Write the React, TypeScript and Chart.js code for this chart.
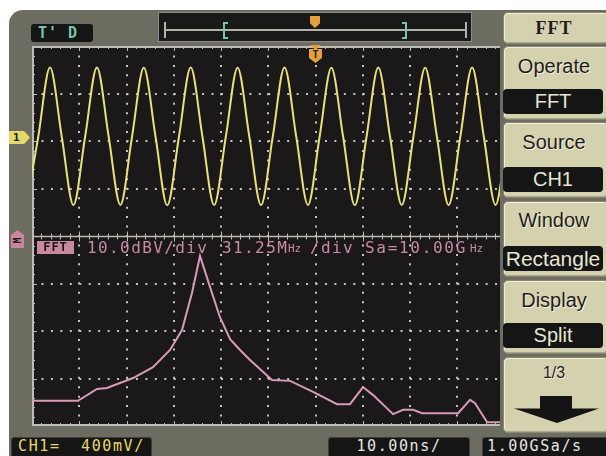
import React, { useEffect, useRef } from "react";
import { Chart, registerables } from "chart.js";

Chart.register(...registerables);

// CH1 waveform key points (time in ns, voltage in mV)
const ch1Times = [-1.31, 1.17, 3.65, 6.13, 8.61, 11.09, 13.58, 16.06, 18.54, 21.02, 23.5, 25.98, 28.46, 30.95, 33.43, 35.91, 38.39, 40.87, 43.35, 45.83, 48.31, 50.8, 53.28, 55.76, 58.24, 60.72, 63.2, 65.68, 68.16, 70.65, 73.13, 75.61, 78.09, 80.57, 83.05, 85.53, 88.01, 90.5, 92.98, 95.46, 97.94, 100.42];
const ch1Values = [-575, 0, 580, 0, -578, 0, 582, 0, -576, 0, 578, 0, -580, 0, 580, 0, -577, 0, 579, 0, -578, 0, 581, 0, -576, 0, 578, 0, -579, 0, 580, 0, -577, 0, 579, 0, -578, 0, 580, 0, -576, 0];
// FFT spectrum (frequency in MHz, level in dBV)
const fftFreqs = [0, 29.9, 42.5, 49.1, 66.3, 79.5, 90.8, 98.7, 105.3, 110.6, 117.2, 123.8, 130.5, 137.1, 143.7, 158.2, 170.2, 185.4, 201.2, 209.8, 218.4, 225.1, 238.3, 244.9, 251.5, 257.5, 278.0, 281.3, 289.2, 292.5, 300.5, 312.5];
const fftLevels = [-34.7, -34.7, -32.2, -32.0, -29.9, -27.6, -24.0, -19.8, -12.0, -4.2, -10.7, -17.1, -21.7, -24.0, -26.1, -30.3, -30.5, -32.8, -35.4, -35.4, -31.8, -33.5, -37.5, -36.6, -36.6, -37.3, -37.3, -37.3, -34.5, -35.2, -39.2, -39.2];

const menuTitle = "FFT";
const menuLabels = ["Operate", "Source", "Window", "Display"];
const menuValues = ["FFT", "CH1", "Rectangle", "Split"];
const pageLabel = "1/3";
const fftInfo = ["10.0dBV/div", "31.25M", "Hz", "/div", "Sa=10.00G", "Hz"];
const statusCh1 = ["CH1=", "400mV/"];
const statusTime = "10.00ns/";
const statusRate = "1.00GSa/s";

// ---- styles ----
const FRAME = "#6d6c60";
const PLOT_BG = "#1b1819";
const GRID = "#c4c4be";
const YELLOW = "#e8e07a";
const PINK = "#d89bb3";
const PINK_TEXT = "#c98ba3";
const TEAL = "#74c6ae";
const ORANGE = "#e3a03c";
const BEIGE = "#d4d1ae";
const MONO = "'DejaVu Sans Mono', monospace";
const SANS = "'Liberation Sans', Arial, sans-serif";

const framePlugin = {
  id: "scopeFrame",
  beforeDatasetsDraw(chart: any) {
    const { ctx, chartArea: a, scales } = chart;
    const gx = scales.gx;
    const gy = scales.gy;
    ctx.save();
    ctx.strokeStyle = "#bdbdb7";
    ctx.lineWidth = 2;
    ctx.beginPath();
    ctx.moveTo(a.right, a.top + 1);
    ctx.lineTo(a.left + 1, a.top + 1);
    ctx.lineTo(a.left + 1, a.bottom - 1);
    ctx.lineTo(a.right, a.bottom - 1);
    ctx.stroke();
    const yc = Math.round(gy.getPixelForValue(4)) + 0.5;
    ctx.lineWidth = 1.5;
    ctx.beginPath();
    ctx.moveTo(a.left, yc);
    ctx.lineTo(a.right, yc);
    ctx.stroke();
    ctx.lineWidth = 1;
    ctx.beginPath();
    for (let i = 0; i <= 50; i++) {
      const v = i / 5;
      if (v > gx.max) break;
      const major = i % 5 === 0;
      const len = major ? 5 : 3;
      const x = Math.round(gx.getPixelForValue(v)) + 0.5;
      ctx.moveTo(x, a.top);
      ctx.lineTo(x, a.top + len);
      ctx.moveTo(x, a.bottom);
      ctx.lineTo(x, a.bottom - len);
      ctx.moveTo(x, yc - len);
      ctx.lineTo(x, yc + len);
    }
    for (let i = 0; i <= 40; i++) {
      const v = i / 5;
      const len = i % 5 === 0 ? 5 : 3;
      const y = Math.round(gy.getPixelForValue(v)) + 0.5;
      ctx.moveTo(a.left, y);
      ctx.lineTo(a.left + len, y);
    }
    ctx.stroke();
    ctx.restore();
  },
};

const gridColor = (excluded: number[], max: number) => (c: any) => {
  const v = c.tick ? c.tick.value : undefined;
  if (v === undefined) return "rgba(0,0,0,0)";
  if (Math.abs(v - Math.round(v)) > 1e-6) return "rgba(0,0,0,0)";
  if (v <= 0 || v >= max) return "rgba(0,0,0,0)";
  if (excluded.includes(Math.round(v))) return "rgba(0,0,0,0)";
  return GRID;
};

function Txt(props: { x: number; y: number; w?: number; h?: number; children: any; style?: any }) {
  const { x, y, w, h, children, style } = props;
  return (
    <div
      style={{
        position: "absolute",
        left: x,
        top: y,
        width: w,
        height: h,
        lineHeight: h ? h + "px" : undefined,
        whiteSpace: "nowrap",
        ...style,
      }}
    >
      {children}
    </div>
  );
}

export default function App() {
  const canvasRef = useRef<HTMLCanvasElement>(null);

  useEffect(() => {
    const ch1Data = ch1Times.map((t, i) => ({ x: t, y: ch1Values[i] }));
    const fftData = fftFreqs.map((f, i) => ({ x: f, y: fftLevels[i] }));
    const chart = new Chart(canvasRef.current as HTMLCanvasElement, {
      type: "line",
      data: {
        datasets: [
          {
            data: ch1Data,
            xAxisID: "x",
            yAxisID: "y",
            borderColor: YELLOW,
            borderWidth: 2,
            pointRadius: 0,
            cubicInterpolationMode: "monotone",
            clip: 0,
          } as any,
          {
            data: fftData,
            xAxisID: "xf",
            yAxisID: "yf",
            borderColor: PINK,
            borderWidth: 2,
            pointRadius: 0,
            tension: 0,
            clip: 0,
          } as any,
        ],
      },
      options: {
        animation: false,
        responsive: false,
        maintainAspectRatio: false,
        devicePixelRatio: 1,
        events: [],
        layout: { padding: 0 },
        plugins: { legend: { display: false }, tooltip: { enabled: false } },
        scales: {
          gx: {
            type: "linear",
            axis: "x",
            position: "bottom",
            min: 0,
            max: 9.9,
            ticks: { display: false, stepSize: 1 },
            grid: { drawTicks: false, lineWidth: 2, color: gridColor([], 9.9) as any },
            border: { display: false, dash: [2, 7.45] },
          } as any,
          gy: {
            type: "linear",
            axis: "y",
            position: "left",
            min: 0,
            max: 8,
            ticks: { display: false, stepSize: 1 },
            grid: { drawTicks: false, lineWidth: 2, color: gridColor([4], 8) as any },
            border: { display: false, dash: [2, 7.45] },
          } as any,
          x: { type: "linear", axis: "x", display: false, min: -0.16, max: 98.89 } as any,
          y: { type: "linear", axis: "y", display: false, min: -2438, max: 762 } as any,
          xf: { type: "linear", axis: "x", display: false, min: -0.5, max: 309.0 } as any,
          yf: { type: "linear", axis: "y", display: false, min: -40, max: 40 } as any,
        },
      },
      plugins: [framePlugin],
    });
    return () => chart.destroy();
  }, []);

  const btnStyle = {
    position: "absolute" as const,
    left: 503,
    width: 106,
    background: BEIGE,
    borderRadius: 5,
    boxSizing: "border-box" as const,
    border: "1px solid #8a8870",
    boxShadow: "inset 1px 1px 0 #f1efdb, inset -1px -1px 0 #a9a78e",
  };
  const barStyle = {
    position: "absolute" as const,
    left: 503,
    width: 100,
    height: 25,
    background: "#151515",
    borderRadius: 4,
    color: "#e8e6d4",
    fontFamily: SANS,
    fontSize: 20,
    lineHeight: "25px",
    textAlign: "center" as const,
  };
  const labelStyle = {
    position: "absolute" as const,
    left: 503,
    width: 102,
    height: 24,
    lineHeight: "24px",
    textAlign: "center" as const,
    fontFamily: SANS,
    fontSize: 20,
    color: "#1e1e1a",
    textShadow: "1px 1px 0 #f2f0de",
  };
  const buttons = [
    { top: 46, h: 74, label: 66, bar: 89 },
    { top: 122, h: 76, label: 142, bar: 167 },
    { top: 201, h: 76, label: 220, bar: 246 },
    { top: 280, h: 74, label: 300, bar: 323 },
  ];
  const statusBox = {
    position: "absolute" as const,
    top: 437,
    height: 21,
    background: "#151515",
    borderRadius: 3,
    boxSizing: "border-box" as const,
    border: "1px solid #3e3d36",
  };
  const statusFont = { fontFamily: MONO, fontSize: 15, letterSpacing: 1.6, lineHeight: "19px" };

  return (
    <div
      style={{
        position: "fixed",
        left: 0,
        top: 0,
        width: 606,
        height: 456,
        background: "#ffffff",
        overflow: "hidden",
      }}
    >
      <div
        style={{
          position: "absolute",
          left: 9,
          top: 10,
          right: 0,
          bottom: 0,
          background: FRAME,
          borderTopLeftRadius: 14,
        }}
      />

      {/* T'D label */}
      <div style={{ position: "absolute", left: 31, top: 24, width: 62, height: 18, background: "#151515", borderRadius: 3 }} />
      <Txt x={38} y={24} h={18} style={{ color: TEAL, fontFamily: MONO, fontWeight: "bold", fontSize: 15, letterSpacing: 1 }}>
        T' D
      </Txt>

      {/* time base bar */}
      <div style={{ position: "absolute", left: 158, top: 12, width: 314, height: 30, background: "#1a1919", boxSizing: "border-box", border: "1px solid #8e8e86" }} />
      <div style={{ position: "absolute", left: 165, top: 29, width: 301, height: 2, background: "#b2b2ac" }} />
      <div style={{ position: "absolute", left: 164, top: 22, width: 2, height: 16, background: "#b2b2ac" }} />
      <div style={{ position: "absolute", left: 465, top: 22, width: 2, height: 16, background: "#b2b2ac" }} />
      <div style={{ position: "absolute", left: 223, top: 22, width: 3, height: 13, borderLeft: `2px solid ${TEAL}`, borderTop: `2px solid ${TEAL}`, borderBottom: `2px solid ${TEAL}` }} />
      <div style={{ position: "absolute", left: 402, top: 22, width: 3, height: 13, borderRight: `2px solid ${TEAL}`, borderTop: `2px solid ${TEAL}`, borderBottom: `2px solid ${TEAL}` }} />
      <div
        style={{
          position: "absolute",
          left: 310,
          top: 16,
          width: 10,
          height: 12,
          background: ORANGE,
          clipPath: "polygon(0 0, 100% 0, 100% 60%, 50% 100%, 0 60%)",
        }}
      />

      {/* plot */}
      <canvas
        ref={canvasRef}
        width={468}
        height={380}
        style={{ position: "absolute", left: 32, top: 46, width: 468, height: 380, background: PLOT_BG }}
      />

      {/* trigger marker on plot */}
      <div style={{ position: "absolute", left: 310, top: 45, width: 11, height: 5, background: ORANGE, clipPath: "polygon(0 0, 100% 0, 50% 100%)" }} />
      <div
        style={{
          position: "absolute",
          left: 309,
          top: 49,
          width: 13,
          height: 14,
          background: ORANGE,
          clipPath: "polygon(0 0, 100% 0, 100% 65%, 50% 100%, 0 65%)",
          color: "#2a1a08",
          fontFamily: MONO,
          fontWeight: "bold",
          fontSize: 10,
          lineHeight: "11px",
          textAlign: "center",
        }}
      >
        T
      </div>

      {/* channel 1 marker */}
      <div
        style={{
          position: "absolute",
          left: 9,
          top: 131,
          width: 21,
          height: 13,
          background: "#e2d96a",
          clipPath: "polygon(0 0, 72% 0, 100% 50%, 72% 100%, 0 100%)",
          color: "#1a1a10",
          fontFamily: MONO,
          fontWeight: "bold",
          fontSize: 11,
          lineHeight: "13px",
          paddingLeft: 4,
          boxSizing: "border-box",
        }}
      >
        1
      </div>

      {/* math marker */}
      <div
        style={{
          position: "absolute",
          left: 11,
          top: 230,
          width: 13,
          height: 18,
          background: "#c8869c",
          clipPath: "polygon(50% 0, 100% 28%, 100% 100%, 0 100%, 0 28%)",
        }}
      />
      <Txt x={11} y={234} w={13} h={13} style={{ color: "#2a1a20", fontFamily: MONO, fontWeight: "bold", fontSize: 10, textAlign: "center", transform: "rotate(-90deg)" }}>
        M
      </Txt>

      {/* FFT info line */}
      <div style={{ position: "absolute", left: 37, top: 241, width: 37, height: 13, background: "#c8889e" }} />
      <Txt x={37} y={241} w={37} h={13} style={{ color: "#1b1819", fontFamily: MONO, fontWeight: "bold", fontSize: 12, letterSpacing: 1, textAlign: "center" }}>
        FFT
      </Txt>
      <Txt x={87} y={239} h={18} style={{ color: PINK_TEXT, fontFamily: MONO, fontSize: 16, letterSpacing: 1.4 }}>
        {fftInfo[0]}
      </Txt>
      <Txt x={222} y={239} h={18} style={{ color: PINK_TEXT, fontFamily: MONO, fontSize: 16, letterSpacing: 1.4 }}>
        {fftInfo[1]}
      </Txt>
      <Txt x={288} y={240} h={18} style={{ color: PINK_TEXT, fontFamily: MONO, fontSize: 11, letterSpacing: 0 }}>
        {fftInfo[2]}
      </Txt>
      <Txt x={310} y={239} h={18} style={{ color: PINK_TEXT, fontFamily: MONO, fontSize: 16, letterSpacing: 1.4 }}>
        {fftInfo[3]}
      </Txt>
      <Txt x={365} y={239} h={18} style={{ color: PINK_TEXT, fontFamily: MONO, fontSize: 16, letterSpacing: 1.7 }}>
        {fftInfo[4]}
      </Txt>
      <Txt x={470} y={240} h={18} style={{ color: PINK_TEXT, fontFamily: MONO, fontSize: 11, letterSpacing: 0 }}>
        {fftInfo[5]}
      </Txt>

      {/* menu */}
      <div style={{ ...btnStyle, top: 12, height: 32 }} />
      <Txt x={503} y={16} w={102} h={24} style={{ textAlign: "center", fontFamily: "'Liberation Serif', serif", fontWeight: "bold", fontSize: 18, letterSpacing: 1, color: "#1e1e1a" }}>
        {menuTitle}
      </Txt>
      {buttons.map((b, i) => (
        <React.Fragment key={i}>
          <div style={{ ...btnStyle, top: b.top, height: b.h }} />
          <div style={{ ...labelStyle, top: b.label - 12 }}>{menuLabels[i]}</div>
          <div style={{ ...barStyle, top: b.bar, fontSize: i === 2 ? 21 : 20 }}>{menuValues[i]}</div>
        </React.Fragment>
      ))}
      <div style={{ ...btnStyle, top: 357, height: 76 }} />
      <div style={{ ...labelStyle, top: 361, fontFamily: SANS, fontSize: 16 }}>{pageLabel}</div>
      <div
        style={{
          position: "absolute",
          left: 514,
          top: 396,
          width: 85,
          height: 27,
          background: "#141414",
          clipPath: "polygon(30.6% 0, 68.2% 0, 68.2% 46%, 100% 46%, 50.6% 100%, 0 46%, 30.6% 46%)",
        }}
      />

      {/* status bar */}
      <div style={{ ...statusBox, left: 11, width: 141 }} />
      <Txt x={18} y={437} h={19} style={{ ...statusFont, color: "#e2da6a" }}>
        {statusCh1[0]}
      </Txt>
      <Txt x={81} y={437} h={19} style={{ ...statusFont, color: "#e2da6a" }}>
        {statusCh1[1]}
      </Txt>
      <div style={{ ...statusBox, left: 328, width: 142 }} />
      <Txt x={328} y={437} w={142} h={19} style={{ ...statusFont, color: "#e6e6e2", textAlign: "center" }}>
        {statusTime}
      </Txt>
      <div style={{ ...statusBox, left: 482, width: 126 }} />
      <Txt x={487} y={437} h={19} style={{ ...statusFont, color: "#e6e6e2" }}>
        {statusRate}
      </Txt>
    </div>
  );
}
